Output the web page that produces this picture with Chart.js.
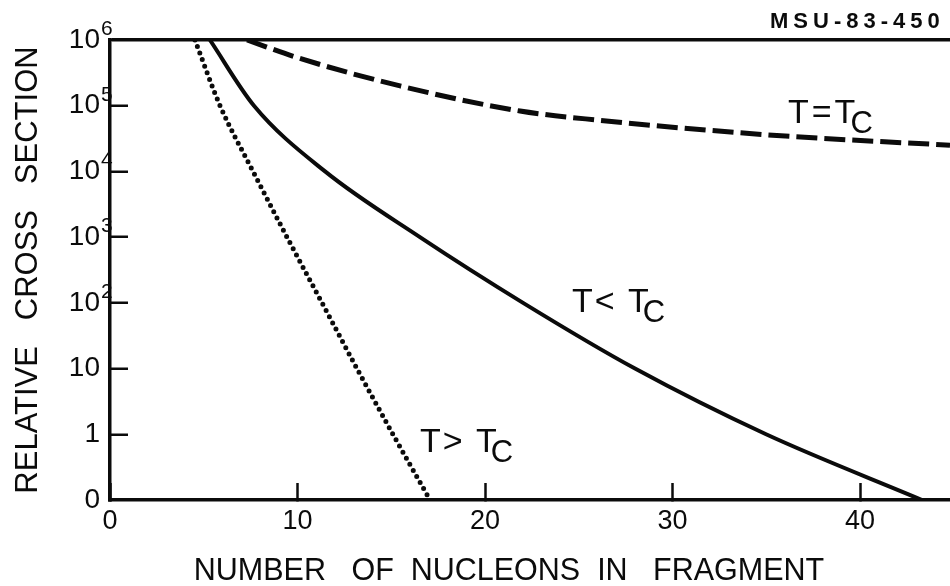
<!DOCTYPE html>
<html>
<head>
<meta charset="utf-8">
<script src="https://cdn.jsdelivr.net/npm/chart.js@4.4.1/dist/chart.umd.min.js"></script>
<style>
  html, body { margin: 0; padding: 0; background: #fff; }
</style>
</head>
<body>
<canvas id="fragments" width="950" height="586"></canvas>
<script>
// fragment size (nucleons) where each curve crosses a decade of cross section
const belowN = [5.33, 7.68, 11.47, 16.53, 22.03, 28.0, 34.99, 43.31];
const belowSigma = [1e6, 1e5, 1e4, 1e3, 100, 10, 1, 0.1];

const aboveN = [4.53, 5.87, 7.63, 9.44, 11.31, 13.17, 15.09, 17.07];
const aboveSigma = [1e6, 1e5, 1e4, 1e3, 100, 10, 1, 0.1];

// the critical curve stays high, so it is read at several sizes instead
const criticalN = [7.31, 10.13, 15.47, 21.87, 26.13, 35.09, 44.8];
const criticalSigma = [1e6, 5.25e5, 2.0e5, 8.3e4, 6.0e4, 3.6e4, 2.5e4];

const xTicks = [0, 10, 20, 30, 40];
const yTicks = [0.1, 1, 10, 100, 1e3, 1e4, 1e5, 1e6];
const yTickLabels = ['0', '1', '10', '10', '10', '10', '10', '10'];
const yTickPowers = ['', '', '', '2', '3', '4', '5', '6'];

// curve labels: text, anchor (nucleons, cross section), extra letter spacing
const notes = [
    { text: 'T=T', n: 36.16, sigma: 5.5e4, spacing: '3px' },
    { text: 'T< T', n: 24.64, sigma: 72, spacing: '2px' },
    { text: 'T> T', n: 16.53, sigma: 0.54, spacing: '2px' }
];

const ink = '#0b0b0b';
const face = '"Liberation Sans", Arial, sans-serif';

const toPoints = (xs, ys) => xs.map((v, i) => ({ x: v, y: ys[i] }));

// lettering that the axes do not draw themselves
const lettering = {
    id: 'lettering',
    afterDraw(chart) {
        const { ctx, scales: { x, y } } = chart;
        ctx.save();
        ctx.fillStyle = ink;
        ctx.textBaseline = 'alphabetic';
        ctx.textAlign = 'left';

        // powers of ten, raised after the "10" tick labels
        ctx.font = '21px ' + face;
        yTicks.forEach((v, i) => {
            if (!yTickPowers[i]) return;
            ctx.fillText(yTickPowers[i], y.right - 9, y.getPixelForValue(v) - 5);
        });

        notes.forEach(note => {
            const px = x.getPixelForValue(note.n);
            const py = y.getPixelForValue(note.sigma);
            ctx.font = '34px ' + face;
            ctx.letterSpacing = note.spacing;
            ctx.fillText(note.text, px, py);
            const w = ctx.measureText(note.text).width;
            ctx.letterSpacing = '0px';
            ctx.font = '31px ' + face;
            ctx.fillText('C', px + w - 8, py + 10);
        });

        ctx.font = 'bold 22px ' + face;
        ctx.letterSpacing = '5px';
        ctx.fillText('MSU-83-450', 770, 28);

        ctx.letterSpacing = '0px';
        ctx.font = '30.5px ' + face;
        ctx.textAlign = 'center';
        ctx.fillText('NUMBER   OF  NUCLEONS  IN   FRAGMENT', 509, 580);
        ctx.restore();
    }
};

new Chart(document.getElementById('fragments'), {
    type: 'line',
    data: {
        datasets: [
            {
                label: 'T < Tc',
                data: toPoints(belowN, belowSigma),
                borderColor: ink,
                borderWidth: 4,
                pointRadius: 0,
                cubicInterpolationMode: 'monotone'
            },
            {
                label: 'T = Tc',
                data: toPoints(criticalN, criticalSigma),
                borderColor: ink,
                borderWidth: 5,
                borderDash: [21, 7],
                pointRadius: 0,
                cubicInterpolationMode: 'monotone'
            },
            {
                label: 'T > Tc',
                data: toPoints(aboveN, aboveSigma),
                borderColor: ink,
                borderWidth: 5,
                borderDash: [0, 7],
                borderCapStyle: 'round',
                pointRadius: 0,
                cubicInterpolationMode: 'monotone'
            }
        ]
    },
    options: {
        responsive: false,
        animation: false,
        devicePixelRatio: 1,
        layout: { padding: { top: 40, right: 0, bottom: 0, left: 0 } },
        plugins: {
            legend: { display: false },
            tooltip: { enabled: false }
        },
        scales: {
            x: {
                type: 'linear',
                min: 0,
                max: 44.8,
                afterBuildTicks: s => { s.ticks = xTicks.map(v => ({ value: v })); },
                afterFit: s => { s.height = 86; },
                border: { display: true, color: ink, width: 3.5 },
                grid: {
                    drawOnChartArea: false,
                    drawTicks: true,
                    tickLength: -17,
                    tickWidth: 2.5,
                    tickColor: ink
                },
                ticks: {
                    color: ink,
                    padding: 22,
                    maxRotation: 0,
                    autoSkip: false,
                    font: { family: face, size: 27 },
                    callback: v => String(v)
                }
            },
            y: {
                type: 'logarithmic',
                min: 0.1,
                max: 1e6,
                afterBuildTicks: s => { s.ticks = yTicks.map(v => ({ value: v })); },
                // fixed width; the label padding must not push the frame down
                afterFit: s => {
                    s.width = 110;
                    s.paddingTop = 0;
                    s.paddingBottom = 0;
                },
                border: { display: true, color: ink, width: 3.5 },
                grid: {
                    drawOnChartArea: true,
                    // only the 10^6 line runs across, closing the frame at the top
                    color: c => (c.tick && c.tick.value === 1e6) ? ink : 'rgba(0,0,0,0)',
                    lineWidth: 3.5,
                    drawTicks: true,
                    tickLength: -18,
                    tickWidth: 2.5,
                    tickColor: ink
                },
                ticks: {
                    color: ink,
                    padding: 28,
                    autoSkip: false,
                    font: { family: face, size: 28 },
                    callback: v => yTickLabels[yTicks.indexOf(v)]
                },
                title: {
                    display: true,
                    text: 'RELATIVE   CROSS   SECTION',
                    color: ink,
                    font: { family: face, size: 31 },
                    padding: { top: 10, bottom: 0 }
                }
            }
        }
    },
    plugins: [lettering]
});
</script>
</body>
</html>
